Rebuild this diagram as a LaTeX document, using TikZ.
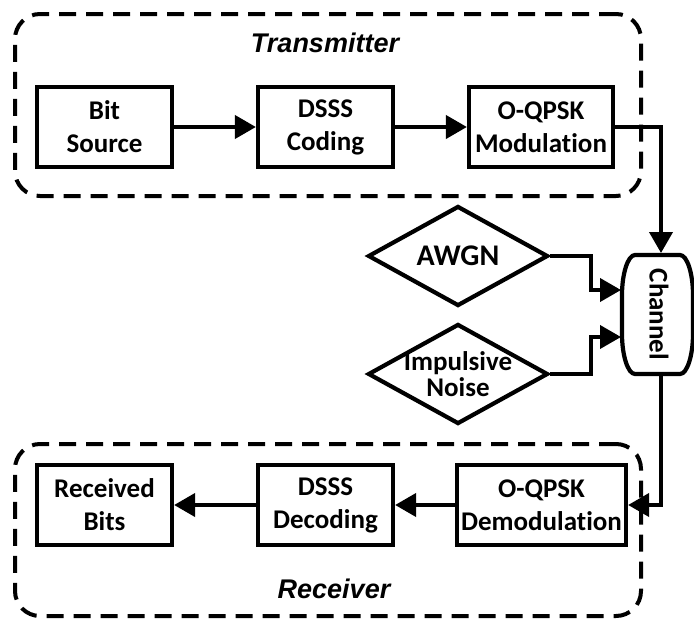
\documentclass[tikz,border=0pt]{standalone}
\usepackage{fontspec}
\setmainfont{Carlito}[Ligatures={NoCommon}]
\newfontfamily\labelfont{Liberation Sans}
\usetikzlibrary{arrows.meta,shapes.geometric}

\begin{document}
\begin{tikzpicture}[x=1pt,y=-1pt,
  blockbox/.style={draw, line width=4.2pt, minimum height=80pt, inner sep=0pt,
    align=center, font=\bfseries\fontsize{27}{33}\selectfont},
  noisebox/.style={draw, diamond, line width=4.2pt, minimum width=180pt,
    minimum height=100pt, inner sep=0pt},
  groupbox/.style={draw, line width=4pt, rounded corners=25pt, inner sep=0pt,
    dash pattern=on 17pt off 10pt},
  grouplabel/.style={inner sep=0pt, font=\labelfont\bfseries\itshape\fontsize{27}{32}\selectfont},
  flow/.style={line width=4pt, -{Triangle[length=21pt,width=23pt]}}]
\useasboundingbox (0,0) rectangle (694,619);

% transmitter and receiver groups
\node[groupbox, minimum width=626pt, minimum height=182pt] (tx) at (328,105) {};
\node[grouplabel] (txlabel) at (325,42.5) {Transmitter};
\node[groupbox, minimum width=626pt, minimum height=172pt] (rx) at (328,530) {};
\node[grouplabel] (rxlabel) at (334,589) {Receiver};

% transmitter chain
\node[blockbox, minimum width=135pt] (src) at (104.5,127) {Bit\\Source};
\node[blockbox, minimum width=135pt] (enc) at (325.5,127) {DSSS\\Coding};
\node[blockbox, minimum width=144pt] (mod) at (541,127) {O-QPSK\\Modulation};

% receiver chain
\node[blockbox, minimum width=135pt] (bits) at (104.5,505) {Received\\Bits};
\node[blockbox, minimum width=135pt] (dec) at (325.5,505) {DSSS\\Decoding};
\node[blockbox, minimum width=169pt] (demod) at (541.5,505) {O-QPSK\\Demodulation};

% noise sources
\node[noisebox] (awgn) at (458,256) {};
\node[font=\bfseries\fontsize{30}{33}\selectfont, inner sep=0pt] (awgntext) at (awgn) {AWGN};
\node[noisebox] (imp) at (458,374) {};
\node[font=\bfseries\fontsize{27}{26}\selectfont, align=center, inner sep=0pt] (imptext) at (imp) {Impulsive\\Noise};

% channel block with elliptic corners
\draw[line width=4.2pt] (635,255) -- (680,255)
  .. controls (687.2,255) and (693,273.9) .. (693,295)
  -- (693,334)
  .. controls (693,355.1) and (687.2,374) .. (680,374)
  -- (635,374)
  .. controls (627.8,374) and (622,355.1) .. (622,334)
  -- (622,295)
  .. controls (622,273.9) and (627.8,255) .. (635,255) -- cycle;
\node[rotate=-90, font=\bfseries\fontsize{27}{33}\selectfont, inner sep=0pt] (chan) at (659,314.5) {Channel};
\coordinate (chN) at (661,253);
\coordinate (chS) at (661,376);
\coordinate (chW1) at (621,290);
\coordinate (chW2) at (621,337);

% signal flow
\draw[flow] (src.east) -- (enc.west);
\draw[flow] (enc.east) -- (mod.west);
\draw[flow] (mod.east) -| (chN);
\draw[flow] (awgn.east) -- ++(41,0) |- (chW1);
\draw[flow] (imp.east) -- ++(41,0) |- (chW2);
\draw[flow] (chS) |- (demod.east);
\draw[flow] (demod.west) -- (dec.east);
\draw[flow] (dec.west) -- (bits.east);
\end{tikzpicture}
\end{document}
